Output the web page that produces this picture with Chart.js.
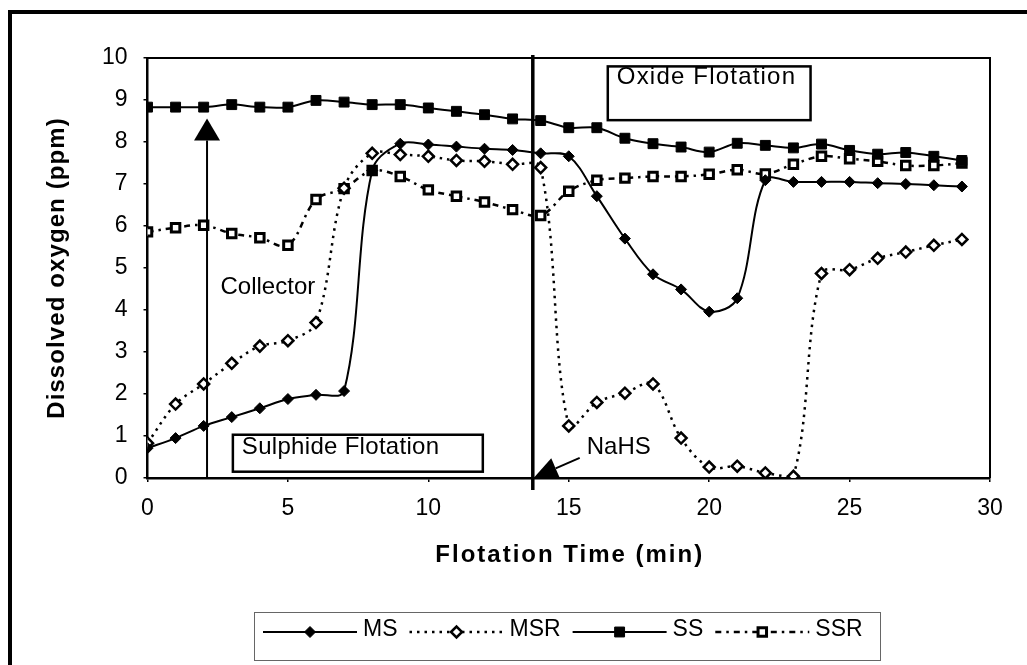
<!DOCTYPE html>
<html>
<head>
<meta charset="utf-8">
<title>Dissolved oxygen</title>
<script src="https://cdn.jsdelivr.net/npm/chart.js@4.4.1/dist/chart.umd.min.js"></script>
<style>
    html, body { margin: 0; padding: 0; background: #fff; }
    canvas { display: block; }
</style>
</head>
<body>
<canvas id="doChart" width="1027" height="665"></canvas>
<script>
// Dati (ossigeno disciolto, ppm)
const minutes = [0, 1, 2, 3, 4, 5, 6, 7, 8, 9, 10, 11, 12, 13, 14, 15, 16, 17, 18, 19, 20, 21, 22, 23, 24, 25, 26, 27, 28, 29];
const msValues = [0.71, 0.95, 1.24, 1.45, 1.66, 1.88, 1.98, 2.07, 7.32, 7.96, 7.94, 7.89, 7.84, 7.81, 7.73, 7.66, 6.71, 5.70, 4.85, 4.49, 3.96, 4.28, 7.09, 7.05, 7.05, 7.05, 7.02, 7.00, 6.97, 6.94];
const msrValues = [0.83, 1.76, 2.24, 2.73, 3.14, 3.27, 3.70, 6.90, 7.73, 7.70, 7.66, 7.56, 7.54, 7.47, 7.39, 1.24, 1.80, 2.02, 2.24, 0.95, 0.26, 0.28, 0.12, 0.04, 4.87, 4.96, 5.23, 5.38, 5.54, 5.68];
const ssValues = [8.83, 8.83, 8.83, 8.89, 8.83, 8.83, 8.99, 8.95, 8.89, 8.89, 8.81, 8.73, 8.65, 8.55, 8.51, 8.34, 8.34, 8.09, 7.96, 7.88, 7.76, 7.97, 7.92, 7.86, 7.95, 7.80, 7.71, 7.75, 7.66, 7.56];
const ssrValues = [5.86, 5.96, 6.02, 5.82, 5.72, 5.54, 6.63, 6.89, 7.32, 7.18, 6.86, 6.71, 6.57, 6.39, 6.25, 6.83, 7.09, 7.14, 7.18, 7.18, 7.23, 7.34, 7.24, 7.47, 7.66, 7.60, 7.54, 7.44, 7.44, 7.50];
const seriesNames = ['MS', 'MSR', 'SS', 'SSR'];
const xTicks = [0, 5, 10, 15, 20, 25, 30];
const yTicks = [0, 1, 2, 3, 4, 5, 6, 7, 8, 9, 10];

const FONT = "'Liberation Sans', Arial, sans-serif";
Chart.defaults.font.family = FONT;
Chart.defaults.color = '#000';

// Converte una serie in punti {x, y}
function toPoints(values) {
    return values.map(function(v, i) {
        return { x: minutes[i], y: v };
    });
}

// Disegna una freccia con punta triangolare
function drawArrow(ctx, x1, y1, x2, y2, headLen, headHalf) {
    const ang = Math.atan2(y2 - y1, x2 - x1);
    const bx = x2 - Math.cos(ang) * headLen;
    const by = y2 - Math.sin(ang) * headLen;
    ctx.beginPath();
    ctx.moveTo(x1, y1);
    ctx.lineTo(bx, by);
    ctx.stroke();
    ctx.beginPath();
    ctx.moveTo(x2, y2);
    ctx.lineTo(bx + Math.sin(ang) * headHalf, by - Math.cos(ang) * headHalf);
    ctx.lineTo(bx - Math.sin(ang) * headHalf, by + Math.cos(ang) * headHalf);
    ctx.closePath();
    ctx.fill();
}

// Riquadro con testo (Sulphide / Oxide Flotation)
function drawTextBox(ctx, xs, ys, x0, y0, x1, y1, text, ty, spacing) {
    const l = xs.getPixelForValue(x0), r = xs.getPixelForValue(x1);
    const t = ys.getPixelForValue(y0), b = ys.getPixelForValue(y1);
    ctx.fillStyle = '#fff';
    ctx.fillRect(l, t, r - l, b - t);
    ctx.lineWidth = 2.5;
    ctx.strokeStyle = '#000';
    ctx.strokeRect(l, t, r - l, b - t);
    ctx.fillStyle = '#000';
    ctx.textAlign = 'left';
    ctx.textBaseline = 'middle';
    ctx.letterSpacing = spacing;
    ctx.fillText(text, l + 9, ys.getPixelForValue(ty));
    ctx.letterSpacing = '0px';
}

const overlayPlugin = {
    id: 'overlay',
    beforeDraw: function(chart) {
        const ctx = chart.ctx;
        ctx.save();
        ctx.fillStyle = '#fff';
        ctx.fillRect(0, 0, chart.width, chart.height);
        ctx.restore();
    },
    afterDatasetsDraw: function(chart) {
        const ctx = chart.ctx;
        const xs = chart.scales.x, ys = chart.scales.y;
        const area = chart.chartArea;
        ctx.save();
        ctx.strokeStyle = '#000';
        ctx.fillStyle = '#000';

        // bordo superiore e destro dell'area del grafico
        ctx.lineWidth = 2;
        ctx.beginPath();
        ctx.moveTo(area.left, area.top);
        ctx.lineTo(area.right, area.top);
        ctx.lineTo(area.right, area.bottom);
        ctx.stroke();

        // linea verticale spessa (aggiunta NaHS)
        const nx = xs.getPixelForValue(13.72);
        ctx.lineWidth = 3.5;
        ctx.beginPath();
        ctx.moveTo(nx, area.top - 3);
        ctx.lineTo(nx, area.bottom + 12);
        ctx.stroke();

        // freccia Collector
        const cx = xs.getPixelForValue(2.12);
        ctx.lineWidth = 2;
        drawArrow(ctx, cx, ys.getPixelForValue(0), cx, ys.getPixelForValue(8.56), 22, 13);

        // freccia NaHS
        drawArrow(ctx, xs.getPixelForValue(15.39), ys.getPixelForValue(0.48),
            xs.getPixelForValue(13.75), ys.getPixelForValue(0), 24, 11);

        ctx.font = '24px ' + FONT;
        ctx.textAlign = 'left';
        ctx.textBaseline = 'middle';
        ctx.fillText('Collector', xs.getPixelForValue(2.6), ys.getPixelForValue(4.54));
        ctx.fillText('NaHS', xs.getPixelForValue(15.64), ys.getPixelForValue(0.72));

        drawTextBox(ctx, xs, ys, 3.04, 1.03, 11.94, 0.15, 'Sulphide Flotation', 0.72, '0.3px');
        drawTextBox(ctx, xs, ys, 16.39, 9.80, 23.61, 8.52, 'Oxide Flotation', 9.54, '1.2px');
        ctx.restore();
    },
    afterDraw: function(chart) {
        const ctx = chart.ctx;
        const xs = chart.scales.x, ys = chart.scales.y;
        const area = chart.chartArea;
        ctx.save();

        // cornice esterna
        ctx.strokeStyle = '#000';
        ctx.lineWidth = 4;
        ctx.beginPath();
        ctx.moveTo(10, chart.height);
        ctx.lineTo(10, 12);
        ctx.lineTo(chart.width, 12);
        ctx.stroke();

        // titoli degli assi (spaziatura larga come nell'originale)
        ctx.fillStyle = '#000';
        ctx.font = 'bold 24px ' + FONT;
        ctx.textAlign = 'center';
        ctx.textBaseline = 'middle';
        ctx.letterSpacing = '2px';
        ctx.fillText('Flotation Time (min)', (area.left + area.right) / 2 + 1, xs.bottom - 23);
        ctx.letterSpacing = '1.1px';
        ctx.save();
        ctx.translate(ys.left + 27, (area.top + area.bottom) / 2);
        ctx.rotate(-Math.PI / 2);
        ctx.fillText('Dissolved oxygen (ppm)', 0, 0);
        ctx.restore();
        ctx.letterSpacing = '0px';

        // legenda
        ctx.lineWidth = 1;
        ctx.strokeStyle = '#666';
        ctx.strokeRect(254.5, 612.5, 626, 48);
        ctx.font = '23px ' + FONT;
        ctx.textBaseline = 'middle';
        ctx.textAlign = 'left';
        let x = 263;
        const ly = 632;
        chart.data.datasets.forEach(function(ds) {
            ctx.strokeStyle = '#000';
            ctx.lineWidth = ds.borderWidth;
            ctx.setLineDash(ds.borderDash || []);
            ctx.beginPath();
            ctx.moveTo(x, ly);
            ctx.lineTo(x + 94, ly);
            ctx.stroke();
            ctx.setLineDash([]);
            ctx.fillStyle = ds.pointBackgroundColor;
            ctx.lineWidth = ds.pointBorderWidth;
            Chart.helpers.drawPoint(ctx, {
                pointStyle: ds.pointStyle,
                radius: ds.pointRadius,
                rotation: 0,
                borderWidth: ds.pointBorderWidth
            }, x + 47, ly);
            ctx.fillStyle = '#000';
            ctx.fillText(ds.label, x + 100, ly - 2);
            x += 100 + ctx.measureText(ds.label).width + 12;
        });
        ctx.restore();
    }
};

const ctx = document.getElementById('doChart').getContext('2d');
new Chart(ctx, {
    type: 'line',
    data: {
        datasets: [{
            label: seriesNames[0],
            data: toPoints(msValues),
            borderColor: '#000',
            borderWidth: 2,
            pointStyle: 'rectRot',
            pointRadius: 5.5,
            pointBackgroundColor: '#000',
            pointBorderColor: '#000',
            pointBorderWidth: 1,
            tension: 0.35,
            order: 1
        }, {
            label: seriesNames[1],
            data: toPoints(msrValues),
            borderColor: '#000',
            borderWidth: 2.5,
            borderDash: [2.5, 5],
            pointStyle: 'rectRot',
            pointRadius: 5.5,
            pointBackgroundColor: '#fff',
            pointBorderColor: '#000',
            pointBorderWidth: 2.5,
            tension: 0.35,
            order: 3
        }, {
            label: seriesNames[2],
            data: toPoints(ssValues),
            borderColor: '#000',
            borderWidth: 2,
            pointStyle: 'rect',
            pointRadius: 7,
            pointBackgroundColor: '#000',
            pointBorderColor: '#000',
            pointBorderWidth: 1,
            tension: 0.35,
            order: 2
        }, {
            label: seriesNames[3],
            data: toPoints(ssrValues),
            borderColor: '#000',
            borderWidth: 2.5,
            borderDash: [6, 5, 2.5, 5],
            pointStyle: 'rect',
            pointRadius: 6,
            pointBackgroundColor: '#fff',
            pointBorderColor: '#000',
            pointBorderWidth: 3,
            tension: 0.35,
            order: 4
        }]
    },
    options: {
        responsive: false,
        animation: false,
        layout: { padding: { left: 30, top: 58, right: 37, bottom: 87 } },
        plugins: {
            legend: { display: false },
            tooltip: { enabled: false }
        },
        scales: {
            x: {
                type: 'linear',
                min: 0,
                max: 30,
                afterBuildTicks: function(scale) {
                    scale.ticks = xTicks.map(function(v) { return { value: v }; });
                },
                afterFit: function(scale) { scale.height = 100; },
                ticks: { font: { size: 23 }, padding: 13, maxRotation: 0 },
                grid: { drawOnChartArea: false, tickLength: 4, color: '#000', lineWidth: 1.5 },
                border: { color: '#000', width: 2.5 },
                title: { display: false }
            },
            y: {
                min: 0,
                max: 10,
                afterBuildTicks: function(scale) {
                    scale.ticks = yTicks.map(function(v) { return { value: v }; });
                },
                afterFit: function(scale) { scale.width = 117.5; },
                ticks: { font: { size: 23 }, padding: 16 },
                grid: { drawOnChartArea: false, tickLength: 4, color: '#000', lineWidth: 1.5 },
                border: { color: '#000', width: 2.5 },
                title: { display: false }
            }
        }
    },
    plugins: [overlayPlugin]
});
</script>
</body>
</html>
